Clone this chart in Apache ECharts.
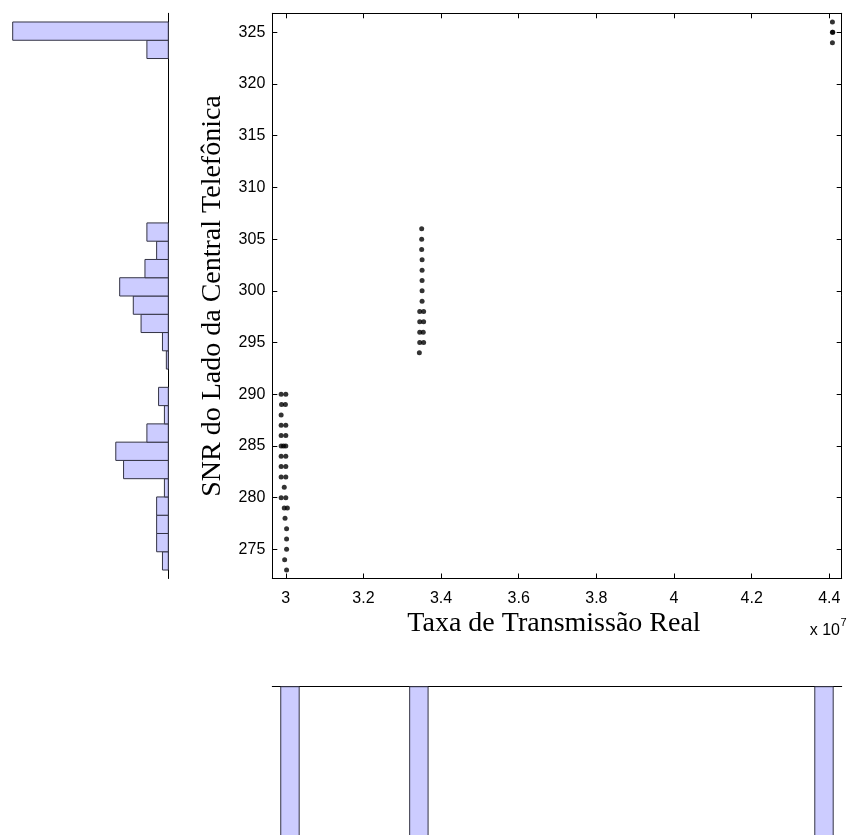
<!DOCTYPE html>
<html><head><meta charset="utf-8">
<script src="https://cdn.jsdelivr.net/npm/echarts@6/dist/echarts.min.js"></script>
<style>html,body{margin:0;padding:0;background:#fff}#c{width:848px;height:835px}</style>
</head><body><div id="c"></div>
<script>
// Scatter data: x = Taxa de Transmissão Real (units of 10^7), y = SNR
const scatterX = [
  2.988, 3.000, 2.989, 2.999, 2.988, 2.988, 3.000, 2.988, 3.000,
  2.988, 2.994, 3.000, 2.988, 3.000, 2.988, 3.000, 2.988, 3.000,
  2.996, 2.988, 3.000, 2.996, 3.004, 2.998, 3.002, 3.002, 3.002, 2.997, 3.002,
  3.350, 3.350, 3.350, 3.351, 3.351, 3.351, 3.351, 3.351,
  3.345, 3.355, 3.345, 3.355, 3.345, 3.354, 3.345, 3.355, 3.344,
  4.408, 4.408, 4.409, 4.408
];
const scatterY = [
  290, 290, 289, 289, 288, 287, 287, 286, 286,
  285, 285, 285, 284, 284, 283, 283, 282, 282,
  281, 280, 280, 279, 279, 278, 277, 276, 275, 274, 273,
  306, 305, 304, 303, 302, 301, 300, 299,
  298, 298, 297, 297, 296, 296, 295, 295, 294,
  326, 325, 325, 324
];
// Axis ticks
const xTicks = [3, 3.2, 3.4, 3.6, 3.8, 4, 4.2, 4.4];
const yTicks = [275, 280, 285, 290, 295, 300, 305, 310, 315, 320, 325];
const xRange = [2.9652, 4.4319];
const yRange = [272.18, 326.84];
// Marginal histogram of y (30 bins between data min and max)
const yHistEdges = [273, 326];
const yHistCounts = [3, 6, 6, 6, 2, 23, 27, 11, 2, 5, 0, 1, 3, 14, 18, 25, 12, 6, 11,
  0, 0, 0, 0, 0, 0, 0, 0, 0, 11, 80];
// Marginal histogram of x (30 bins between data min and max)
const xHistEdges = [2.987, 4.410];
const xHistCounts = [91, 0, 0, 0, 0, 0, 0, 90, 0, 0, 0, 0, 0, 0, 0, 0, 0, 0, 0, 0,
  0, 0, 0, 0, 0, 0, 0, 0, 0, 91];

const SANS = 'Liberation Sans, Arial, sans-serif';
const SERIF = 'Liberation Serif, Times New Roman, serif';
const BAR_FILL = '#ccccff', BAR_EDGE = '#333344';

function binData(edges, counts) {
  const w = (edges[1] - edges[0]) / counts.length;
  return counts.map((c, i) => [c, edges[0] + i * w, edges[0] + (i + 1) * w]);
}

const chart = echarts.init(document.getElementById('c'));
const G = {left: 272.3, top: 13.3, width: 569.4, height: 565.2};
const fmt = v => String(+(+v).toFixed(1));
const tickStyle = {color: '#000', width: 1};

const option = {
  animation: false,
  backgroundColor: '#fff',
  grid: [
    {left: G.left, top: G.top, width: G.width, height: G.height, outerBoundsMode: 'none'},
    {left: 12.7, top: G.top, width: 155.6, height: G.height, outerBoundsMode: 'none'},
    {left: G.left, top: 686.7, width: G.width, height: 155.6, outerBoundsMode: 'none'}
  ],
  xAxis: [
    {gridIndex: 0, type: 'value', min: xRange[0], max: xRange[1], position: 'bottom',
      axisLine: {onZero: false, lineStyle: {color: '#000', width: 1}},
      axisTick: {inside: true, length: 5, customValues: xTicks, lineStyle: tickStyle},
      axisLabel: {customValues: xTicks, formatter: fmt, fontFamily: SANS, fontSize: 16, color: '#000', margin: 12},
      splitLine: {show: false}},
    {gridIndex: 0, type: 'value', min: xRange[0], max: xRange[1], position: 'top',
      axisLine: {onZero: false, lineStyle: {color: '#000', width: 1}},
      axisTick: {inside: true, length: 5, customValues: xTicks, lineStyle: tickStyle},
      axisLabel: {show: false}, splitLine: {show: false}},
    {gridIndex: 1, type: 'value', min: 0, max: Math.max(...yHistCounts), inverse: true, show: false},
    {gridIndex: 2, type: 'value', min: xRange[0], max: xRange[1], position: 'top',
      axisLine: {show: true, onZero: false, lineStyle: {color: '#000', width: 1}},
      axisTick: {show: false}, axisLabel: {show: false}, splitLine: {show: false}}
  ],
  yAxis: [
    {gridIndex: 0, type: 'value', min: yRange[0], max: yRange[1], position: 'left',
      axisLine: {show: true, onZero: false, lineStyle: {color: '#000', width: 1}},
      axisTick: {show: true, inside: true, length: 5, customValues: yTicks, lineStyle: tickStyle},
      axisLabel: {customValues: yTicks, fontFamily: SANS, fontSize: 16, color: '#000', margin: 7},
      splitLine: {show: false}},
    {gridIndex: 0, type: 'value', min: yRange[0], max: yRange[1], position: 'right',
      axisLine: {show: true, onZero: false, lineStyle: {color: '#000', width: 1}},
      axisTick: {show: true, inside: true, length: 5, customValues: yTicks, lineStyle: tickStyle},
      axisLabel: {show: false}, splitLine: {show: false}},
    {gridIndex: 1, type: 'value', min: yRange[0], max: yRange[1], position: 'right',
      axisLine: {show: true, onZero: false, lineStyle: {color: '#000', width: 1}},
      axisTick: {show: false}, axisLabel: {show: false}, splitLine: {show: false}},
    {gridIndex: 2, type: 'value', min: 0, max: Math.max(...xHistCounts), inverse: true, show: false}
  ],
  series: [
    {type: 'scatter', xAxisIndex: 0, yAxisIndex: 0,
      data: scatterX.map((x, i) => [x, scatterY[i]]),
      symbol: 'circle', symbolSize: 5, itemStyle: {color: '#000'}, silent: true},
    {type: 'custom', xAxisIndex: 2, yAxisIndex: 2, data: binData(yHistEdges, yHistCounts),
      encode: {x: 0, y: [1, 2]}, silent: true,
      renderItem: (params, api) => {
        const c = api.value(0);
        if (!c) return null;
        const a = api.coord([0, api.value(1)]), b = api.coord([c, api.value(2)]);
        return {type: 'rect', shape: {x: Math.min(a[0], b[0]), y: Math.min(a[1], b[1]),
          width: Math.abs(b[0] - a[0]), height: Math.abs(b[1] - a[1])},
          style: {fill: BAR_FILL, stroke: BAR_EDGE, lineWidth: 1}};
      }},
    {type: 'custom', xAxisIndex: 3, yAxisIndex: 3, data: binData(xHistEdges, xHistCounts),
      encode: {y: 0, x: [1, 2]}, silent: true,
      renderItem: (params, api) => {
        const c = api.value(0);
        if (!c) return null;
        const a = api.coord([api.value(1), 0]), b = api.coord([api.value(2), c]);
        return {type: 'rect', shape: {x: Math.min(a[0], b[0]), y: Math.min(a[1], b[1]),
          width: Math.abs(b[0] - a[0]), height: Math.abs(b[1] - a[1])},
          style: {fill: BAR_FILL, stroke: BAR_EDGE, lineWidth: 1}};
      }}
  ],
  graphic: [
    {type: 'text', x: 554, y: 624, silent: true,
      style: {text: 'Taxa de Transmissão Real', font: '28px ' + SERIF, fill: '#000', align: 'center', verticalAlign: 'middle'}},
    {type: 'text', x: 213, y: 296, rotation: Math.PI / 2, silent: true,
      style: {text: 'SNR do Lado da Central Telefônica', font: '28px ' + SERIF, fill: '#000', align: 'center', verticalAlign: 'middle'}},
    {type: 'text', x: 840, y: 631, silent: true,
      style: {text: 'x 10', font: '16px ' + SANS, fill: '#000', align: 'right', verticalAlign: 'middle'}},
    {type: 'text', x: 840.5, y: 623, silent: true,
      style: {text: '7', font: '11px ' + SANS, fill: '#000', align: 'left', verticalAlign: 'middle'}}
  ]
};
chart.setOption(option);
</script>
</body></html>
